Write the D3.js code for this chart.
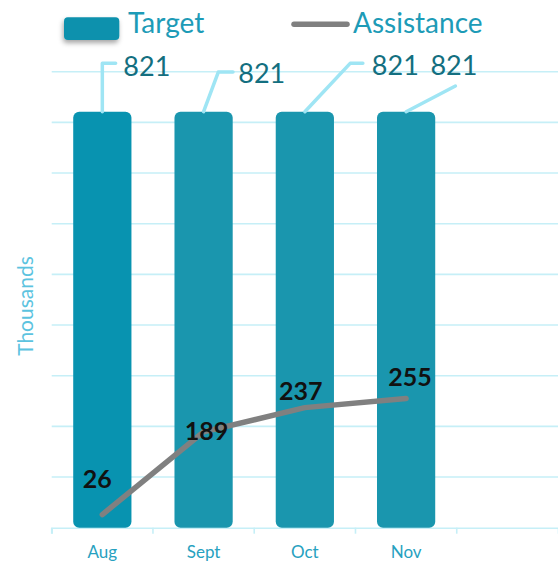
<!DOCTYPE html>
<html>
<head>
<meta charset="utf-8">
<script src="https://cdn.jsdelivr.net/npm/d3@7"></script>
<style>
  html, body { margin: 0; padding: 0; background: #fff; }
  svg { display: block; font-family: Lato, "Open Sans", sans-serif; }
</style>
</head>
<body>
<svg id="chart" width="558" height="573"></svg>
<script>
// ---- data ----
const categories = ["Aug", "Sept", "Oct", "Nov", ""];
const targetValues = [821, 821, 821, 821];
const assistanceValues = [26, 189, 237, 255];
const yTicks = [0, 100, 200, 300, 400, 500, 600, 700, 800, 900];
const seriesNames = ["Target", "Assistance"];
const axisTitle = "Thousands";

// ---- layout (styling only) ----
const W = 558, H = 573;
const plot = { left: 51.7, right: 558, top: 71.7, bottom: 527.7 };
const barFrac = 0.575;
const barColors = ["#0893b0", "#1a96ae", "#1a96ae", "#1a96ae"];
// leader-line label offsets relative to bar top
const leaderLayout = [
  { pts: [[0, 0], [0, -48.4], [13.3, -48.4]], tx: 21, ty: -35.7 },
  { pts: [[0, 0], [14.7, -39.7], [29.4, -39.7]], tx: 34.7, ty: -29 },
  { pts: [[0, 0], [45.3, -48.4], [58, -48.4]], tx: 67, ty: -36.7 },
  { pts: [[0, 0], [49.3, -25.7]], tx: 24.3, ty: -36.7 }
];
// line label offsets relative to point (center x, baseline y)
const lineLabelOffsets = [[-5, -27], [3, 8], [-4, -8], [4, -13]];

const svg = d3.select("#chart");

const defs = svg.append("defs");
const f = defs.append("filter").attr("id", "shadow").attr("x", "-30%").attr("y", "-30%").attr("width", "160%").attr("height", "180%");
f.append("feDropShadow").attr("dx", -1).attr("dy", 3).attr("stdDeviation", 2.5).attr("flood-color", "#000").attr("flood-opacity", 0.35);

const x = d3.scaleBand().domain(categories.map((c, i) => i)).range([plot.left, plot.right]).padding(0);
const y = d3.scaleLinear().domain([0, 900]).range([plot.bottom, plot.top]);
const cx = i => x(i) + x.bandwidth() / 2;
const bw = x.bandwidth() * barFrac;

// gridlines
svg.append("g").selectAll("line").data(yTicks.slice(1)).join("line")
  .attr("x1", plot.left).attr("x2", plot.right)
  .attr("y1", d => y(d)).attr("y2", d => y(d))
  .attr("stroke", "#c6eff7").attr("stroke-width", 1.6);

// x axis
const xAxis = d3.axisBottom(x).tickSize(6).tickFormat(i => categories[i]);
const gx = svg.append("g").attr("transform", `translate(0,${plot.bottom})`).call(xAxis);
gx.select(".domain").attr("stroke", "#c6eff7").attr("stroke-width", 1.6);
gx.selectAll(".tick line").attr("stroke", "#c6eff7").attr("stroke-width", 1.6)
  .attr("transform", function() { return `translate(${-x.bandwidth() / 2},0)`; });
gx.selectAll(".tick text").attr("fill", "#27a1c0").attr("font-size", 17).attr("dy", 0).attr("y", 30)
  .attr("font-family", "Lato, sans-serif");
// extra tick at the right end not needed (edge of chart)

// y axis title
svg.append("text").attr("transform", `translate(33,306) rotate(-90)`)
  .attr("text-anchor", "middle").attr("fill", "#5cc3df").attr("font-size", 21)
  .text(axisTitle);

// bars
svg.append("g").selectAll("rect").data(targetValues).join("rect")
  .attr("x", (d, i) => cx(i) - bw / 2).attr("width", bw)
  .attr("y", d => y(d)).attr("height", d => y(0) - y(d))
  .attr("rx", 6).attr("ry", 6)
  .attr("fill", (d, i) => barColors[i]);

// leader lines and target labels
targetValues.forEach((d, i) => {
  const bx = cx(i), by = y(d);
  const L = leaderLayout[i];
  svg.append("path")
    .attr("d", d3.line()(L.pts.map(p => [bx + p[0], by + p[1]])))
    .attr("fill", "none").attr("stroke", "#9fe5f4").attr("stroke-width", 3.5)
    .attr("stroke-linecap", "round").attr("stroke-linejoin", "round");
  svg.append("text").attr("x", bx + L.tx).attr("y", by + L.ty)
    .attr("fill", "#136f80").attr("font-size", 27).text(d3.format("d")(d));
});

// assistance line
const line = d3.line().x((d, i) => cx(i)).y(d => y(d));
svg.append("path").datum(assistanceValues).attr("d", line)
  .attr("fill", "none").attr("stroke", "#808080").attr("stroke-width", 5.5)
  .attr("stroke-linecap", "round").attr("stroke-linejoin", "round");

// assistance labels
svg.append("g").selectAll("text").data(assistanceValues).join("text")
  .attr("x", (d, i) => cx(i) + lineLabelOffsets[i][0])
  .attr("y", (d, i) => y(d) + lineLabelOffsets[i][1])
  .attr("text-anchor", "middle").attr("font-weight", "bold").attr("font-size", 25)
  .attr("fill", "#111")
  .text(d => d);

// legend
const lg = svg.append("g");
lg.append("rect").attr("x", 64).attr("y", 17.3).attr("width", 55.3).attr("height", 22.7)
  .attr("rx", 4).attr("fill", "#0a91ad").attr("filter", "url(#shadow)");
lg.append("text").attr("x", 128).attr("y", 33.3).attr("fill", "#1d9bb7").attr("font-size", 28).text(seriesNames[0]);
lg.append("line").attr("x1", 294).attr("x2", 347).attr("y1", 24.3).attr("y2", 24.3)
  .attr("stroke", "#808080").attr("stroke-width", 5.5).attr("stroke-linecap", "round");
lg.append("text").attr("x", 353).attr("y", 33.3).attr("fill", "#1d9bb7").attr("font-size", 28).text(seriesNames[1]);
</script>
</body>
</html>
